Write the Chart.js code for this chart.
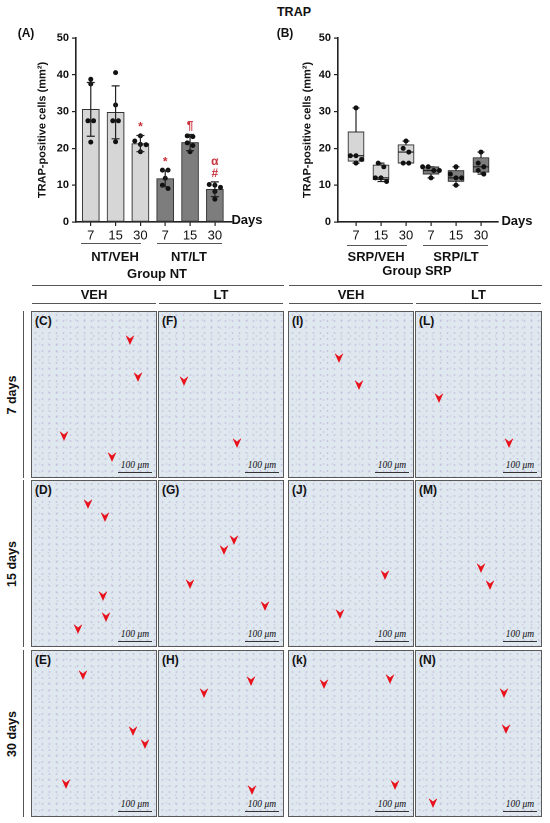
<!DOCTYPE html>
<html><head><meta charset="utf-8">
<script src="https://cdn.jsdelivr.net/npm/chart.js@4.4.1/dist/chart.umd.min.js"></script>
<style>
html,body{margin:0;padding:0;background:#fff}
body{width:550px;height:823px;position:relative;overflow:hidden;font-family:"Liberation Sans",Arial,sans-serif;color:#111}
.t{position:absolute;font-weight:bold;white-space:nowrap;transform:translate(-50%,-50%);line-height:1}
.ln{position:absolute;background:#555;height:1px}
.vl{position:absolute;background:#555;width:1px}
canvas{position:absolute}
.panel{position:absolute;box-sizing:border-box;border:1.5px solid #5a5a5a;
 background-color:#dfe8ef;
 background-image:radial-gradient(rgba(150,125,195,.3) 0.8px,transparent 1.3px),radial-gradient(rgba(170,140,200,.22) 0.8px,transparent 1.3px);
 background-size:7px 6px,9px 8px;background-position:0 0,3px 4px;overflow:hidden}
.plab{position:absolute;left:3px;top:3px;font-weight:bold;font-size:12px;line-height:1}
.sb{position:absolute;right:4px;bottom:4px;width:34px;height:1.5px;background:#333}
.sbt{position:absolute;right:4px;bottom:7px;width:34px;text-align:center;font-style:italic;font-size:9.5px;font-family:"Liberation Serif",serif;line-height:1}
.arr{position:absolute;width:9px;height:10px;background:#e8121c;clip-path:polygon(0 0,50% 35%,100% 0,50% 100%);transform:translate(-50%,-50%)}
</style>
</head><body>
<canvas id="cA" width="245" height="217" style="left:30px;top:28px;width:245px;height:217px"></canvas>
<canvas id="cB" width="255" height="217" style="left:295px;top:28px;width:255px;height:217px"></canvas>
<div id="txt"></div>
<script>
// ---------- data ----------
const dayLabels = ['7','15','30','7','15','30'];
const yTicks = [0,10,20,30,40,50];
const ntGroups = ['NT/VEH','NT/LT'];
const srpGroups = ['SRP/VEH','SRP/LT'];
const ntMeans = [30.6, 29.8, 21.3, 11.8, 21.6, 8.9];
const ntSD = [7.3, 7.2, 2.2, 2.2, 2.2, 2.0];
const ntPoints = [
  [38.8, 37.5, 27.5, 27.5, 21.7],
  [40.6, 31.8, 27.5, 27.5, 21.8],
  [23.4, 22.0, 21.1, 21.0, 19.1],
  [14.1, 14.1, 11.9, 10.0, 9.1],
  [23.4, 23.2, 21.5, 20.8, 19.1],
  [10.2, 10.0, 9.4, 8.3, 6.2]
];
const ntMarks = [[], [], ['*'], ['*'], ['¶'], ['#', 'α']];
const srpPoints = [
  [31, 18, 18, 17, 16],
  [16, 15, 12, 12, 11],
  [22, 20, 19, 16, 16],
  [15, 15, 14, 14, 12],
  [15, 13, 12, 12, 10],
  [19, 16, 15, 14, 13]
];
const treatment = ['VEH','VEH','VEH','LT','LT','LT'];

// ---------- helpers ----------
const FILL = {VEH:'#d6d6d6', LT:'#7d7d7d'};
const FONT = '"Liberation Sans", Arial, sans-serif';
function quant(arr, p){ const s=[...arr].sort((a,b)=>a-b); const n=s.length; let pos=(n+1)*p; if(pos<1)pos=1; if(pos>n)pos=n; const lo=Math.floor(pos), hi=Math.ceil(pos); return s[lo-1]+(s[hi-1]-s[lo-1])*(pos-lo); }
const srpStats = srpPoints.map(v=>({min:Math.min(...v),max:Math.max(...v),q1:quant(v,.25),med:quant(v,.5),q3:quant(v,.75)}));
// symmetric row-based swarm (GraphPad-like scatter spreading)
function swarm(vals, center, pxX){
  const d=5.6, pxY=3.66, s=[...vals].sort((a,b)=>b-a), rows=[];
  s.forEach(v=>{ const r=rows[rows.length-1]; if(r && (r[0]-v)*pxY < d*0.8) r.push(v); else rows.push([v]); });
  const out=[];
  rows.forEach(r=>r.forEach((v,j)=>out.push({x:center+((j-(r.length-1)/2)*d)/pxX, y:v})));
  return out;
}
const yAxis = (titleText)=>({
  min:0,max:50,
  afterBuildTicks:s=>{s.ticks=yTicks.map(v=>({value:v}));},
  afterFit:s=>{s.width=s.chart.canvas.id==='cA'?46:43;},
  ticks:{font:{family:FONT,size:11,weight:'bold'},color:'#111',padding:3},
  grid:{drawOnChartArea:false,drawTicks:true,tickLength:4,color:'#222',lineWidth:1.2},
  border:{color:'#222',width:1.6},
  title:{display:true,text:titleText,font:{family:FONT,size:11,weight:'bold'},color:'#111',padding:{top:6,bottom:0}}
});
const xAxis = (mn,mx)=>({
  type:'linear',min:mn,max:mx,offset:false,
  afterBuildTicks:s=>{s.ticks=dayLabels.map((l,i)=>({value:i+1}));},
  afterFit:s=>{s.height=23;},
  ticks:{callback:v=>dayLabels[Math.round(v)-1],font:{family:FONT,size:13},color:'#111',padding:2,maxRotation:0,autoSkip:false},
  grid:{drawOnChartArea:false,drawTicks:true,tickLength:4,color:'#222',lineWidth:1.2,offset:false},
  border:{color:'#222',width:1.6}
});

// ---------- chart A ----------
const errPlugin = {id:'err', afterDatasetsDraw(chart){
  const ctx=chart.ctx, xs=chart.scales.x, ys=chart.scales.y;
  ctx.save(); ctx.strokeStyle='#222'; ctx.lineWidth=1.2;
  ntMeans.forEach((m,i)=>{ const x=xs.getPixelForValue(i+1), t=ys.getPixelForValue(m+ntSD[i]), b=ys.getPixelForValue(m-ntSD[i]);
    ctx.beginPath(); ctx.moveTo(x,t); ctx.lineTo(x,b); ctx.moveTo(x-4,t); ctx.lineTo(x+4,t); ctx.moveTo(x-4,b); ctx.lineTo(x+4,b); ctx.stroke();
    ctx.fillStyle='#c8323c'; ctx.font='bold 12px '+FONT; ctx.textAlign='center'; ctx.textBaseline='alphabetic';
    ntMarks[i].forEach((mk,j)=>{ ctx.fillText(mk, x, t-5-j*12); });
  });
  ctx.restore();
}};
new Chart(document.getElementById('cA'),{
  data:{datasets:[
    {type:'bar',order:2,data:ntMeans.map((m,i)=>({x:i+1,y:m})),backgroundColor:treatment.map(t=>FILL[t]),borderColor:'#333',borderWidth:1,borderSkipped:false,barThickness:17},
    {type:'scatter',order:1,data:ntPoints.flatMap((v,i)=>swarm(v,i+1,24.7)),pointRadius:2.5,pointBackgroundColor:'#111',pointBorderWidth:0}
  ]},
  options:{responsive:false,animation:false,devicePixelRatio:2,
    layout:{padding:{left:0,top:10,right:43,bottom:0}},
    plugins:{legend:{display:false},tooltip:{enabled:false}},
    scales:{x:xAxis(0.405,6.69),y:yAxis('TRAP-positive cells (mm²)')}},
  plugins:[errPlugin]
});

// ---------- chart B ----------
const boxPlugin = {id:'box', afterDatasetDraw(chart,args){
  if(chart.data.datasets[args.index].type!=='bar') return;
  const ctx=chart.ctx, xs=chart.scales.x, ys=chart.scales.y;
  ctx.save(); ctx.strokeStyle='#222'; ctx.lineWidth=1.2;
  srpStats.forEach((s,i)=>{ const x=xs.getPixelForValue(i+1), p=v=>ys.getPixelForValue(v);
    ctx.beginPath();
    ctx.moveTo(x,p(s.max)); ctx.lineTo(x,p(s.q3)); ctx.moveTo(x,p(s.q1)); ctx.lineTo(x,p(s.min));
    ctx.moveTo(x-3.5,p(s.max)); ctx.lineTo(x+3.5,p(s.max)); ctx.moveTo(x-3.5,p(s.min)); ctx.lineTo(x+3.5,p(s.min));
    ctx.moveTo(x-8,p(s.med)); ctx.lineTo(x+8,p(s.med)); ctx.stroke(); });
  ctx.restore();
}};
new Chart(document.getElementById('cB'),{
  data:{datasets:[
    {type:'bar',order:2,data:srpStats.map((s,i)=>({x:i+1,y:[s.q1,s.q3]})),backgroundColor:treatment.map(t=>FILL[t]),borderColor:'#333',borderWidth:1,borderSkipped:false,barThickness:16},
    {type:'scatter',order:1,data:srpPoints.flatMap((v,i)=>swarm(v,i+1,25)),pointRadius:2.5,pointBackgroundColor:'#111',pointBorderWidth:0}
  ]},
  options:{responsive:false,animation:false,devicePixelRatio:2,
    layout:{padding:{left:0,top:10,right:52,bottom:0}},
    plugins:{legend:{display:false},tooltip:{enabled:false}},
    scales:{x:xAxis(0.28,6.68),y:yAxis('TRAP-positive cells (mm²)')}},
  plugins:[boxPlugin]
});

// ---------- text & micrograph layout ----------
const T = document.getElementById('txt');
function txt(s,x,y,size,extra){ const d=document.createElement('div'); d.className='t'; d.textContent=s; d.style.left=x+'px'; d.style.top=y+'px'; d.style.fontSize=size+'px'; if(extra) Object.assign(d.style,extra); T.appendChild(d); return d; }
function hl(x1,x2,y,c){ const d=document.createElement('div'); d.className='ln'; d.style.left=x1+'px'; d.style.width=(x2-x1)+'px'; d.style.top=y+'px'; if(c)d.style.background=c; T.appendChild(d); }
function vl(x,y1,y2){ const d=document.createElement('div'); d.className='vl'; d.style.left=x+'px'; d.style.top=y1+'px'; d.style.height=(y2-y1)+'px'; T.appendChild(d); }

txt('TRAP',294,12,12.5);
txt('(A)',26,33,12); txt('(B)',285,33,12);
txt('Days',247,219,13); txt('Days',517,220,13);
hl(81,141,243); hl(157,222,243);
txt(ntGroups[0],115,256,13); txt(ntGroups[1],189,256,13);
txt('Group NT',157,273,13);
hl(347,407,245); hl(423,488,245);
txt(srpGroups[0],376,256,13); txt(srpGroups[1],456,256,13);
txt('Group SRP',417,270,13);

// micrograph grid
const colX=[31,158,288,415], colW=[126,126,126,127], rowY=[311,480,650], rowH=167;
const colHead=['VEH','LT','VEH','LT'];
const rowLab=['7 days','15 days','30 days'];
const letters=[['C','F','I','L'],['D','G','J','M'],['E','H','k','N']];
const arrows={
 C:[[98,28],[106,65],[32,124],[80,145]], F:[[25,69],[78,131]], I:[[50,46],[70,73]], L:[[23,86],[93,131]],
 D:[[56,23],[73,36],[71,115],[74,136],[46,148]], G:[[75,59],[65,69],[31,103],[106,125]], J:[[96,94],[51,133]], M:[[65,87],[74,104]],
 E:[[51,24],[101,80],[113,93],[34,133]], H:[[45,42],[92,30],[93,139]], k:[[35,33],[101,28],[106,134]], N:[[88,42],[90,78],[17,152]]
};
hl(32,284,285); hl(289,542,285);
colHead.forEach((h,c)=>{ txt(h,colX[c]+colW[c]/2,294,13); hl(colX[c]+1,colX[c]+colW[c]-1,303); });
rowLab.forEach((r,i)=>{ txt(r,12,rowY[i]+rowH/2,12.5,{transform:'translate(-50%,-50%) rotate(-90deg)'}); vl(23,rowY[i],rowY[i]+rowH); });
letters.forEach((row,r)=>row.forEach((L,c)=>{
  const p=document.createElement('div'); p.className='panel';
  Object.assign(p.style,{left:colX[c]+'px',top:rowY[r]+'px',width:colW[c]+'px',height:rowH+'px'});
  p.innerHTML='<div class="plab">('+L+')</div><div class="sbt">100 μm</div><div class="sb"></div>';
  (arrows[L]||[]).forEach(a=>{ const d=document.createElement('div'); d.className='arr'; d.style.left=a[0]+'px'; d.style.top=a[1]+'px'; p.appendChild(d); });
  T.appendChild(p);
}));
</script>
</body></html>
